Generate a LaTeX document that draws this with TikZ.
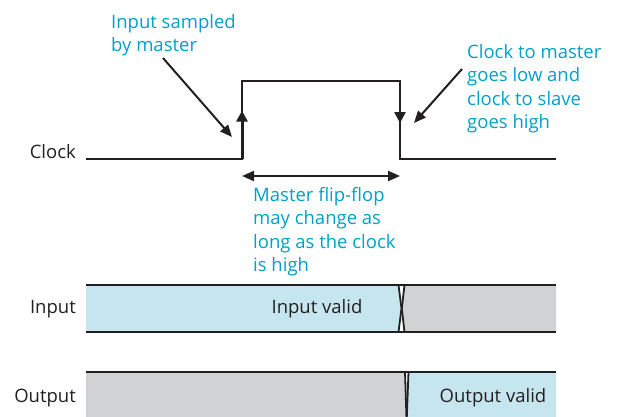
\documentclass[tikz,border=0pt]{standalone}
\usepackage{fontspec}
\setmainfont{Open Sans}
\usetikzlibrary{arrows.meta,calc}
\definecolor{callout}{RGB}{0,160,200}
\definecolor{ink}{RGB}{35,31,32}
\definecolor{validblue}{RGB}{197,229,239}
\definecolor{dontcare}{RGB}{209,210,212}
\tikzset{
  wave/.style={draw=ink,line width=2.2pt},
  edgearrow/.style={draw=ink,fill=ink,line width=2.2pt,-{Triangle[length=11pt,width=11pt]}},
  pointer/.style={draw=ink,line width=2pt,-{Triangle[length=12pt,width=10pt]}},
  span/.style={draw=ink,line width=2pt,{Triangle[length=12pt,width=10pt]}-{Triangle[length=12pt,width=10pt]}},
  busline/.style={draw=ink,line width=2.2pt},
  cross/.style={draw=ink,line width=1.8pt},
  note/.style={text=callout,inner sep=0pt,align=left,anchor=north west,
    font=\fontsize{18.5}{23.5}\selectfont},
  siglabel/.style={text=ink,inner sep=0pt,anchor=base east,
    font=\fontsize{18.5}{22}\selectfont},
  barlabel/.style={text=ink,inner sep=0pt,anchor=base,
    font=\fontsize{18.5}{22}\selectfont},
}
\begin{document}
\begin{tikzpicture}[x=1pt,y=-1pt]
\useasboundingbox (0,0) rectangle (619,417);

% clock waveform
\coordinate (c0) at (86,159);
\coordinate (rise) at (242,159);
\coordinate (riseTop) at (242,81);
\coordinate (fall) at (400,81);
\coordinate (fallBot) at (400,159);
\coordinate (c1) at (556,159);
\draw[wave] (c0) -- (rise) -- (riseTop) -- (fall) -- (fallBot) -- (c1);
\draw[edgearrow,line width=3pt] (rise) -- ($(rise)!0.62!(riseTop)$);
\draw[edgearrow] (fall) -- ($(fall)!0.54!(fallBot)$);

% signal names
\node[siglabel] (clk) at (76,159) {Clock};
\node[siglabel] (inp) at (76,313) {Input};
\node[siglabel] (outp) at (76,402) {Output};

% callouts
\node[note] (sampled) at (111,14) {Input sampled\\by master};
\coordinate (sampFrom) at (163,58);
\coordinate (sampTo) at (232,137);
\draw[pointer] (sampFrom) -- (sampTo);

\node[note] (handover) at (467,44) {Clock to master\\goes low and\\clock to slave\\goes high};
\coordinate (handFrom) at (462,69);
\coordinate (handTo) at (414,123);
\draw[pointer] (handFrom) -- (handTo);

\coordinate (spanL) at (242,176);
\coordinate (spanR) at (400,176);
\draw[span] (spanL) -- (spanR);
\node[note] (masterchg) at (253,187) {Master flip-flop\\may change as\\long as the clock\\is high};

% input bus
\fill[validblue] (86,285) -- (398.5,285) -- (401.5,308.5) -- (398.5,332) -- (86,332) -- cycle;
\fill[dontcare] (404.5,285) -- (556,285) -- (556,332) -- (404.5,332) -- (401.8,308.5) -- cycle;
\draw[cross] (398.5,285) -- (401.5,308.5) -- (398.5,332);
\draw[cross] (404.5,285) -- (401.8,308.5) -- (404.5,332);
\draw[busline] (86,285) -- (556,285);
\draw[busline] (86,332) -- (556,332);
\node[barlabel] (inval) at (317,313) {Input valid};

% output bus (runs off the lower edge)
\fill[dontcare] (86,372) -- (405,372) -- (406.6,422) -- (86,422) -- cycle;
\fill[validblue] (408.5,372) -- (556,372) -- (556,422) -- (406.6,422) -- cycle;
\draw[cross] (405,372) -- (406.6,422);
\draw[cross] (408.5,372) -- (406.6,422);
\draw[busline] (86,372) -- (556,372);
\node[barlabel] (outval) at (493,402) {Output valid};
\end{tikzpicture}
\end{document}
